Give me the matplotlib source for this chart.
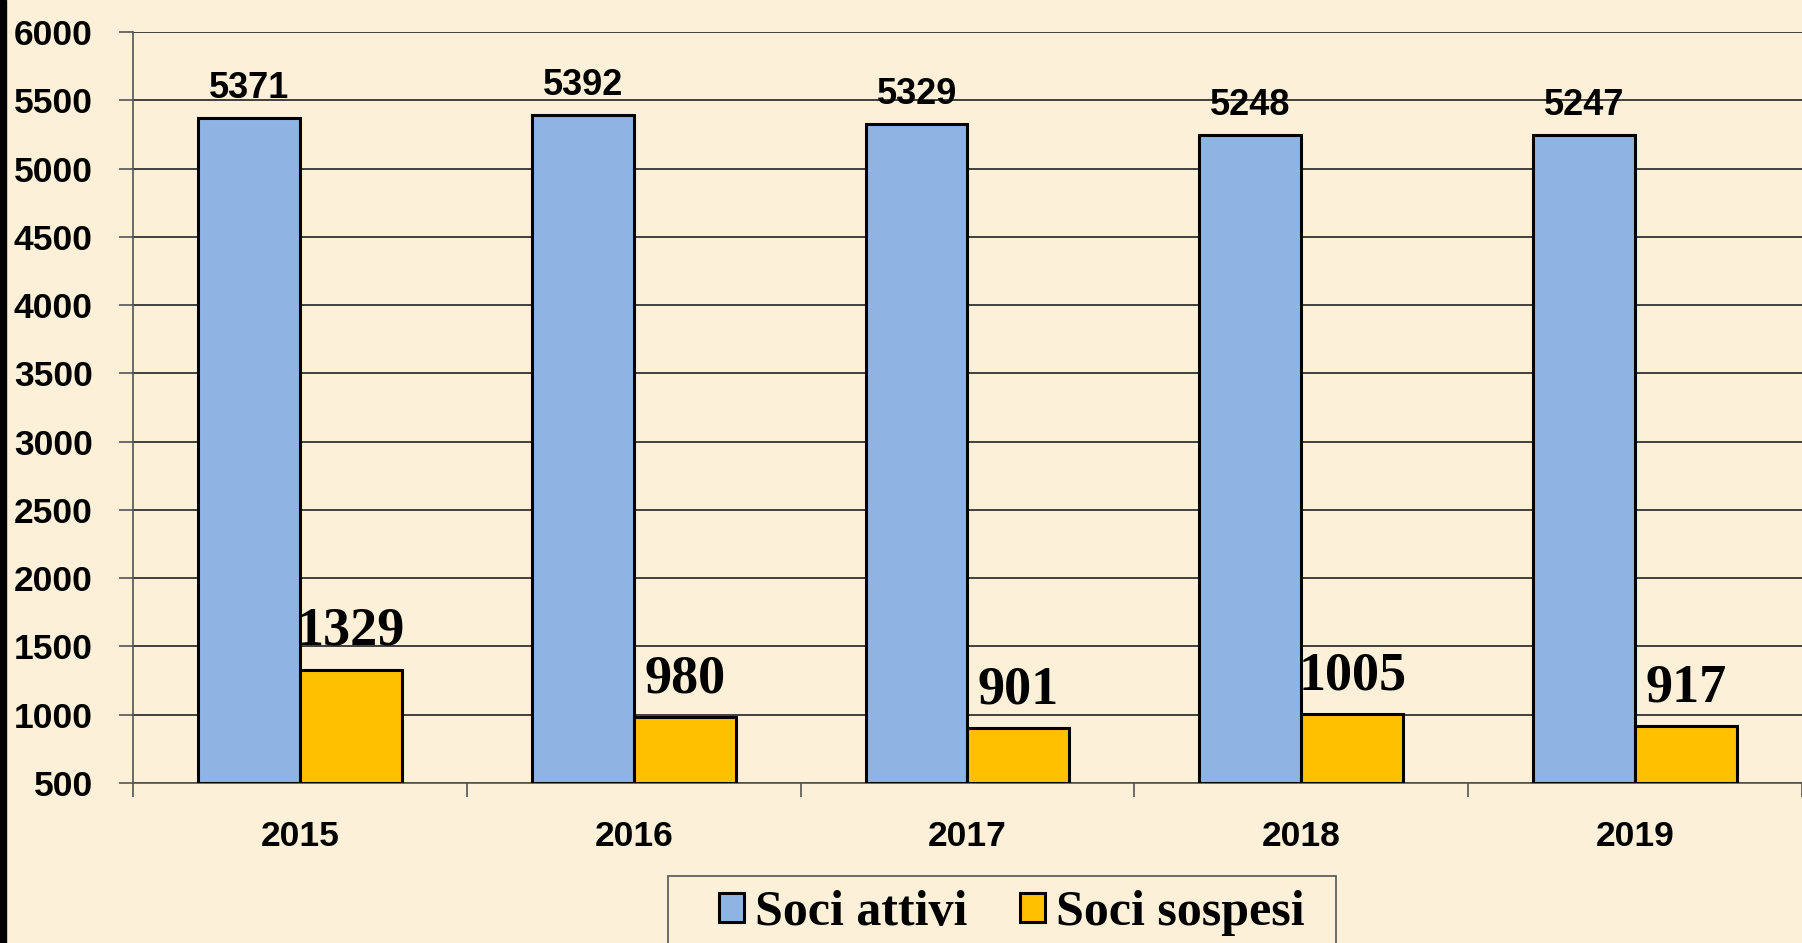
import numpy as np
import matplotlib
matplotlib.use("Agg")
import matplotlib.pyplot as plt
from matplotlib.patches import Rectangle

years = ["2015", "2016", "2017", "2018", "2019"]
attivi = [5371, 5392, 5329, 5248, 5247]
sospesi = [1329, 980, 901, 1005, 917]
series_names = ["Soci attivi", "Soci sospesi"]

bg = "#FCF0D8"
blue = "#8EB4E3"
orange = "#FFC000"
sans = ["Liberation Sans", "DejaVu Sans"]
serif = ["Liberation Serif", "DejaVu Serif"]

W, H = 1802, 943
fig = plt.figure(figsize=(W / 100, H / 100), dpi=100, facecolor=bg)
ax = fig.add_axes([133 / W, 1 - 783 / H, 1 - 133 / W, (783 - 32) / H])
ax.set_facecolor(bg)

# black strip on the left edge
fig.patches.append(Rectangle((0, 0), 6 / W, 1, transform=fig.transFigure,
                             color="black", zorder=5))

x = np.arange(len(years))
w = 0.305
b1 = ax.bar(x - w / 2, np.array(attivi) - 500, w, bottom=500, color=blue,
            edgecolor="black", linewidth=2.2, label=series_names[0], zorder=3)
b2 = ax.bar(x + w / 2, np.array(sospesi) - 500, w, bottom=500, color=orange,
            edgecolor="black", linewidth=2.2, label=series_names[1], zorder=3)

for xi, v in zip(x, attivi):
    ax.text(xi - w / 2, v + 146, str(v), ha="center", va="baseline",
            fontsize=26, fontweight="bold", family=sans)
for xi, v in zip(x, sospesi):
    ax.text(xi + w / 2, v + 183, str(v), ha="center", va="baseline",
            fontsize=39, fontweight="bold", family=serif)

ax.set_ylim(500, 6000)
ax.set_yticks(np.arange(500, 6001, 500))
ax.set_xlim(-0.5, 4.47)
ax.yaxis.grid(True, color="#222222", linewidth=1.2, zorder=0)
ax.set_axisbelow(True)

ax.set_xticks(x)
ax.set_xticklabels(years)
ax.set_xticks(np.arange(-0.5, 5, 1), minor=True)
ax.tick_params(axis="x", which="major", length=0, pad=27)
ax.tick_params(axis="x", which="minor", length=10, width=1.2, color="#555555")
ax.tick_params(axis="y", length=10, width=1.2, color="#555555", pad=19)
for lab in ax.get_xticklabels() + ax.get_yticklabels():
    lab.set_family(sans)
    lab.set_fontweight("bold")
    lab.set_fontsize(25.5)

for s in ["top", "right"]:
    ax.spines[s].set_visible(False)
for s in ["left", "bottom"]:
    ax.spines[s].set_color("#555555")
    ax.spines[s].set_linewidth(1.2)

# legend frame, cut by the bottom edge as in the original
fig.patches.append(Rectangle((668 / W, -0.02), (1336 - 668) / W, 0.02 + (943 - 876) / H,
                             transform=fig.transFigure, facecolor=bg,
                             edgecolor="#555555", linewidth=1.2, zorder=4))
leg = fig.legend(handles=[b1, b2], loc="center left",
                 bbox_to_anchor=(719 / W, 1 - 913 / H), ncol=2,
                 prop={"family": serif, "weight": "bold", "size": 36},
                 frameon=False, handlelength=0.5, handleheight=0.5,
                 handletextpad=0.22, columnspacing=1.05,
                 borderpad=0, borderaxespad=0)
leg.set_zorder(6)

fig.savefig("out.png", dpi=100, facecolor=bg)
